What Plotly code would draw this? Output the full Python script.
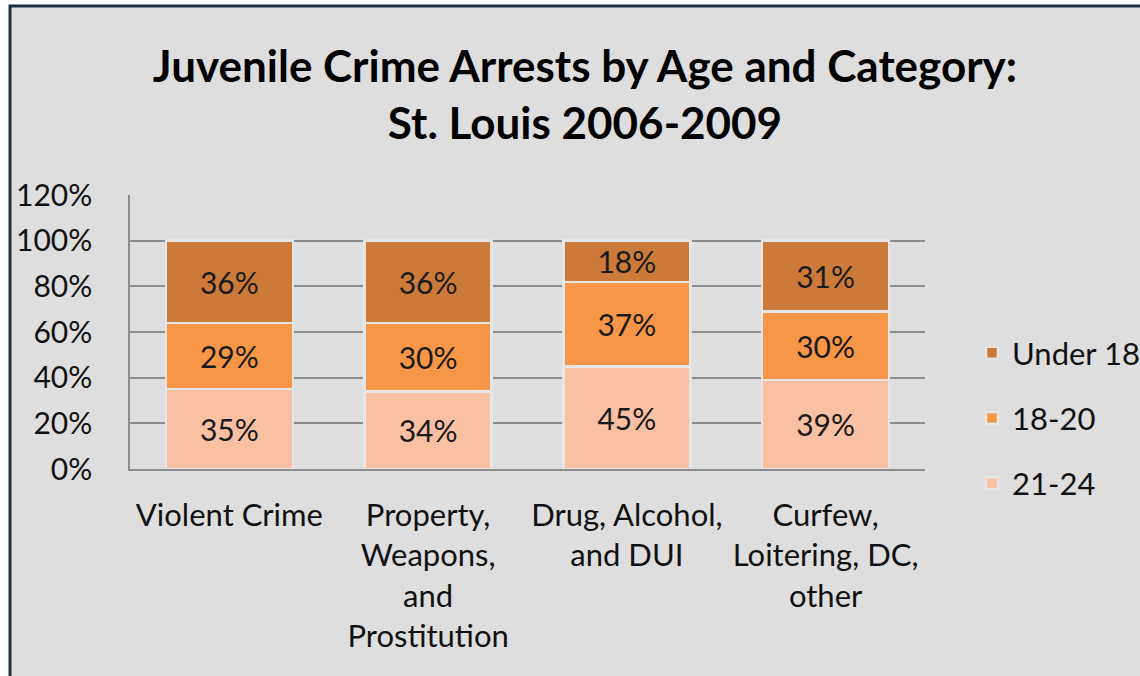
import plotly.graph_objects as go

categories = ["Violent Crime", "Property,<br>Weapons,<br>and<br>Prostitution",
              "Drug, Alcohol,<br>and DUI", "Curfew,<br>Loitering, DC,<br>other"]
series_names = ["21-24", "18-20", "Under 18"]
age_21_24 = [35, 34, 45, 39]
age_18_20 = [29, 30, 37, 30]
under_18 = [36, 36, 18, 31]
colors = ["#F9C0A3", "#F79646", "#CB7A39"]
legend_ranks = [3, 2, 1]
y_ticks = [0, 20, 40, 60, 80, 100, 120]

W, H = 1140, 676
ml, mr, mt, mb = 130, 215, 195, 207
pw, ph = W - ml - mr, H - mt - mb

def px_x(px):
    return (px - ml) / pw

def px_y(py):
    return (H - mb - py) / ph

FONT = "Lato"
fig = go.Figure()
for name, vals, col, rk in zip(series_names, [age_21_24, age_18_20, under_18], colors, legend_ranks):
    fig.add_trace(go.Bar(
        x=categories, y=[v / 100 for v in vals], name=name, legendgroup=name,
        legendrank=rk,
        marker=dict(color=col, line=dict(color="#E6E6E6", width=2.5)),
        text=[f"{v}%" for v in vals], textposition="inside",
        insidetextanchor="middle", textangle=0, constraintext="none",
        textfont=dict(family=FONT, size=30, color="#1a1a1a"),
        hoverinfo="skip",
    ))

fig.update_layout(
    width=W, height=H, barmode="stack", bargap=0.36,
    paper_bgcolor="white", plot_bgcolor="#DEDEDE",
    margin=dict(l=ml, r=mr, t=mt, b=mb, autoexpand=False),
    font=dict(family=FONT, size=30, color="#111"),
    title=dict(text="<b>Juvenile Crime Arrests by Age and Category:<br>St. Louis 2006-2009</b>",
               x=px_x(585), xref="paper", xanchor="center", y=1 - 82 / H, yanchor="top",
               font=dict(family=FONT, size=44, color="#000")),
    legend=dict(x=px_x(972), xanchor="left", y=px_y(418), yanchor="middle",
                traceorder="grouped", tracegroupgap=22,
                font=dict(family=FONT, size=31, color="#111"),
                bgcolor="rgba(0,0,0,0)", itemwidth=30),
    showlegend=True,
    shapes=[dict(type="rect", xref="paper", yref="paper", layer="below",
                 x0=px_x(10), x1=px_x(1160), y0=px_y(700), y1=px_y(6),
                 fillcolor="#DEDEDE", line=dict(color="#1F2E3D", width=3))],
)
fig.update_yaxes(range=[0, 1.2], tickvals=[t / 100 for t in y_ticks],
                 ticktext=[f"{t}%" for t in y_ticks],
                 showgrid=True, gridcolor="#8C8C8C", gridwidth=1.5,
                 showline=True, linecolor="#8C8C8C", linewidth=1.5,
                 ticks="", ticklabelstandoff=30, zeroline=False,
                 tickfont=dict(family=FONT, size=30, color="#111"))
fig.update_xaxes(showline=True, linecolor="#8C8C8C", linewidth=1.5, mirror=False,
                 ticks="", tickfont=dict(family=FONT, size=31, color="#111"),
                 ticklabelstandoff=18)

fig.write_html("out.html", config={"displayModeBar": False},
               post_script="document.body.style.margin='0px';")
